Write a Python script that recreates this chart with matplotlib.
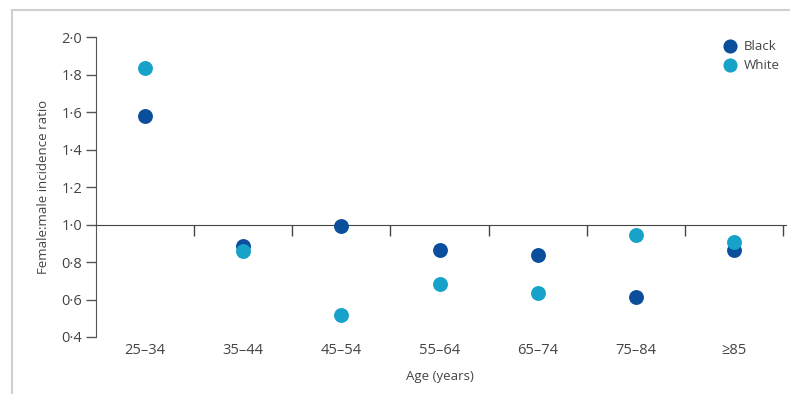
import matplotlib.pyplot as plt
from matplotlib.lines import Line2D

# data
ages = ['25\u201334', '35\u201344', '45\u201354', '55\u201364', '65\u201374', '75\u201384', '\u226585']
black = [1.58, 0.885, 0.99, 0.865, 0.835, 0.615, 0.865]
white = [1.835, 0.86, 0.52, 0.685, 0.635, 0.945, 0.905]
yticks = [0.4, 0.6, 0.8, 1.0, 1.2, 1.4, 1.6, 1.8, 2.0]

c_black = '#0b4f9c'
c_white = '#17a2c9'
txt = '#444444'

plt.rcParams['font.family'] = ['Open Sans', 'DejaVu Sans']

fig = plt.figure(figsize=(7.9, 3.94), dpi=100)
ax = fig.add_axes([96 / 790, 57 / 394, 687 / 790, 300 / 394])

x = list(range(len(ages)))
ax.scatter(x, black, s=115, color=c_black, zorder=3, label='Black', linewidths=0)
ax.scatter(x, white, s=115, color=c_white, zorder=3, label='White', linewidths=0)

ax.set_xlim(-0.5, len(ages) - 0.5)
ax.set_ylim(0.4, 2.0)

# y axis
ax.set_yticks(yticks)
ax.set_yticklabels([f'{v:.1f}'.replace('.', '\u00b7') for v in yticks])
ax.tick_params(axis='y', direction='out', length=7, width=1, colors='#555555',
               labelcolor=txt, labelsize=10.5, pad=3)
ax.spines['left'].set_color('#555555')
ax.spines['top'].set_visible(False)
ax.spines['right'].set_visible(False)

# bottom spine sits on the 1.0 reference line, ticks at group boundaries
ax.spines['bottom'].set_position(('data', 1.0))
ax.spines['bottom'].set_color('#444444')
ax.spines['bottom'].set_bounds(-0.5, len(ages) - 0.47)
ax.set_xticks([i + 0.5 for i in x])
ax.set_xticklabels([])
ax.tick_params(axis='x', direction='out', length=8, width=1, colors='#444444')

# category labels at the bottom
sec = ax.secondary_xaxis(0)
sec.set_xticks(x)
sec.set_xticklabels(ages)
sec.tick_params(length=0, labelsize=10.5, labelcolor=txt, pad=4)
sec.spines['bottom'].set_visible(False)
sec.set_xlabel('Age (years)', fontsize=9.5, color=txt, labelpad=9)

ax.set_ylabel('Female:male incidence ratio', fontsize=9.5, color=txt, labelpad=8)

ax.legend(loc='upper left', bbox_to_anchor=(0.9, 1.0), frameon=False,
          fontsize=9.5, labelcolor=txt, handletextpad=0.0, borderaxespad=0.0,
          borderpad=0.2, labelspacing=0.45, markerscale=0.95)

# light frame (left and top edges)
fig.add_artist(Line2D([12 / 790, 12 / 790], [0, 1 - 10 / 394], color='#d0d0d0', lw=1.5))
fig.add_artist(Line2D([12 / 790, 1], [1 - 10 / 394, 1 - 10 / 394], color='#d0d0d0', lw=1.5))

fig.savefig('out.png', dpi=100)
